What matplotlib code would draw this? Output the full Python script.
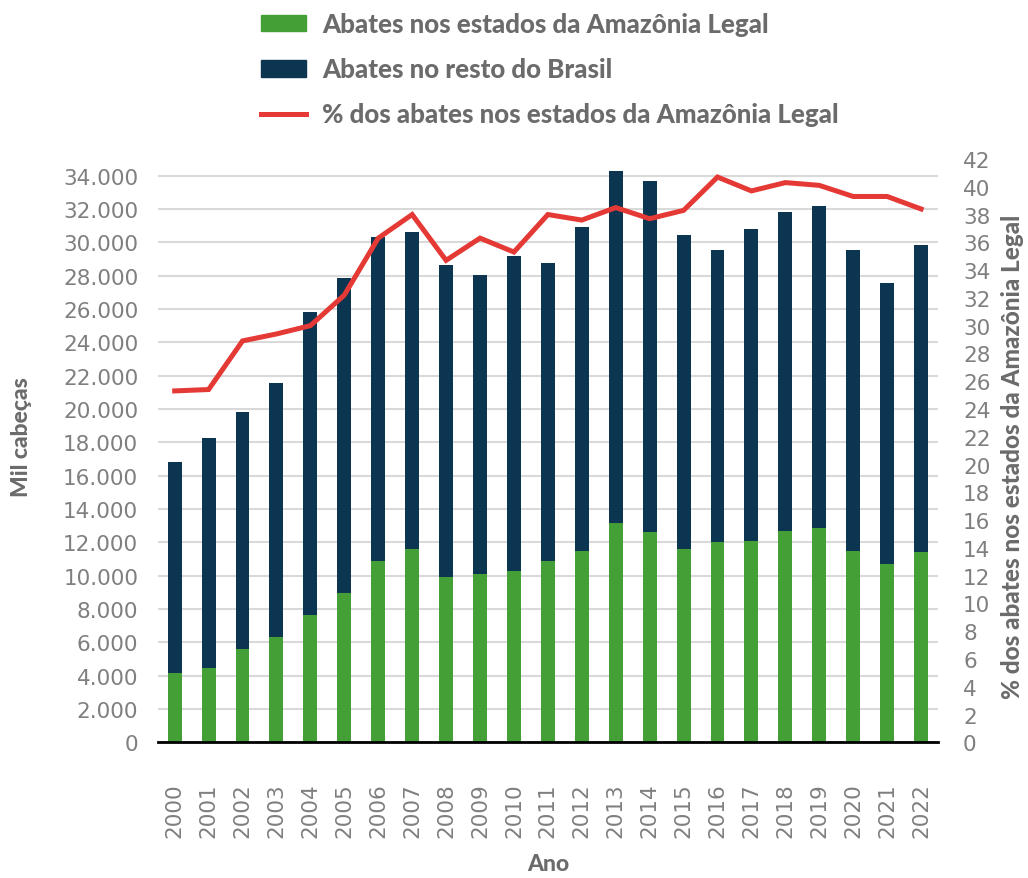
import matplotlib
matplotlib.use("Agg")
import matplotlib.pyplot as plt
from matplotlib.ticker import FuncFormatter, MultipleLocator
from matplotlib.lines import Line2D
from matplotlib.patches import Patch

years = [str(y) for y in range(2000, 2023)]
amazonia = [4150, 4450, 5600, 6300, 7650, 8950, 10900, 11600, 9900, 10100, 10300,
            10900, 11500, 13150, 12600, 11600, 12000, 12100, 12700, 12850, 11500, 10700, 11400]
total = [16800, 18250, 19800, 21550, 25800, 27850, 30300, 30600, 28650, 28050, 29150,
         28750, 30900, 34250, 33700, 30450, 29550, 30800, 31800, 32150, 29550, 27550, 29850]
resto = [t - a for t, a in zip(total, amazonia)]
pct = [25.3, 25.4, 28.9, 29.4, 30.0, 32.2, 36.3, 38.0, 34.7, 36.3, 35.3,
       38.0, 37.6, 38.5, 37.7, 38.3, 40.7, 39.7, 40.3, 40.1, 39.3, 39.3, 38.4]

lab_amz = "Abates nos estados da Amazônia Legal"
lab_resto = "Abates no resto do Brasil"
lab_pct = "% dos abates nos estados da Amazônia Legal"

GREEN = "#449f37"
NAVY = "#0b3550"
RED = "#e53935"
TICK = "#7f7f7f"
LABEL = "#6b6b6b"

fig = plt.figure(figsize=(10.28, 8.79), dpi=100)
ax = fig.add_axes([0.1534, 0.1544, 0.9125 - 0.1534, 0.818 - 0.1544])
ax2 = ax.twinx()

x = list(range(len(years)))
ax.bar(x, amazonia, width=0.41, color=GREEN, zorder=2)
ax.bar(x, resto, width=0.41, bottom=amazonia, color=NAVY, zorder=2)
ax2.plot(x, pct, color=RED, lw=3.6, solid_joinstyle="miter", zorder=3)

ax.set_xlim(-0.5, 22.5)
ax.set_ylim(0, 35000)
ax2.set_ylim(0, 42)
ax.yaxis.set_major_locator(MultipleLocator(2000))
ax2.yaxis.set_major_locator(MultipleLocator(2))
ax.yaxis.set_major_formatter(FuncFormatter(lambda v, p: f"{int(v):,}".replace(",", ".")))
ax.set_xticks(x)
ax.set_xticklabels(years, rotation=90)

for a in (ax, ax2):
    for s in a.spines.values():
        s.set_visible(False)
ax.spines["bottom"].set_visible(True)
ax.spines["bottom"].set_color("black")
ax.spines["bottom"].set_linewidth(2)
ax.grid(axis="y", color="#d9d9d9", lw=1.5, zorder=0)
ax.set_axisbelow(True)

ax.tick_params(axis="y", length=0, pad=14, labelsize=15.5, labelcolor=TICK)
ax.tick_params(axis="x", length=0, pad=29, labelsize=15.5, labelcolor=TICK)
ax2.tick_params(axis="y", length=0, pad=18, labelsize=15.5, labelcolor=TICK)

lab_font = dict(family="Lato", weight="black", color=LABEL)
fig.text(22 / 1028, 1 - 437 / 879, "Mil cabeças", rotation=90, ha="center", va="center", size=16.5, **lab_font)
fig.text(548 / 1028, 1 - 865 / 879, "Ano", ha="center", va="center", size=16.5, **lab_font)
fig.text(1013 / 1028, 1 - 457 / 879, lab_pct, rotation=90, ha="center", va="center", size=17.5, **lab_font)

handles = [Patch(color=GREEN), Patch(color=NAVY), Line2D([], [], color=RED, lw=3.6)]
leg = fig.legend(handles, [lab_amz, lab_resto, lab_pct], loc="upper left",
                 bbox_to_anchor=(243 / 1028, 1 + 5 / 879), frameon=False,
                 prop=dict(family="Lato", weight="black", size=18.6),
                 handlelength=1.74, handleheight=0.63, handletextpad=0.62, labelspacing=0.82,
                 borderpad=0.2)
for t in leg.get_texts():
    t.set_color(LABEL)

fig.savefig("out.png", dpi=100)
